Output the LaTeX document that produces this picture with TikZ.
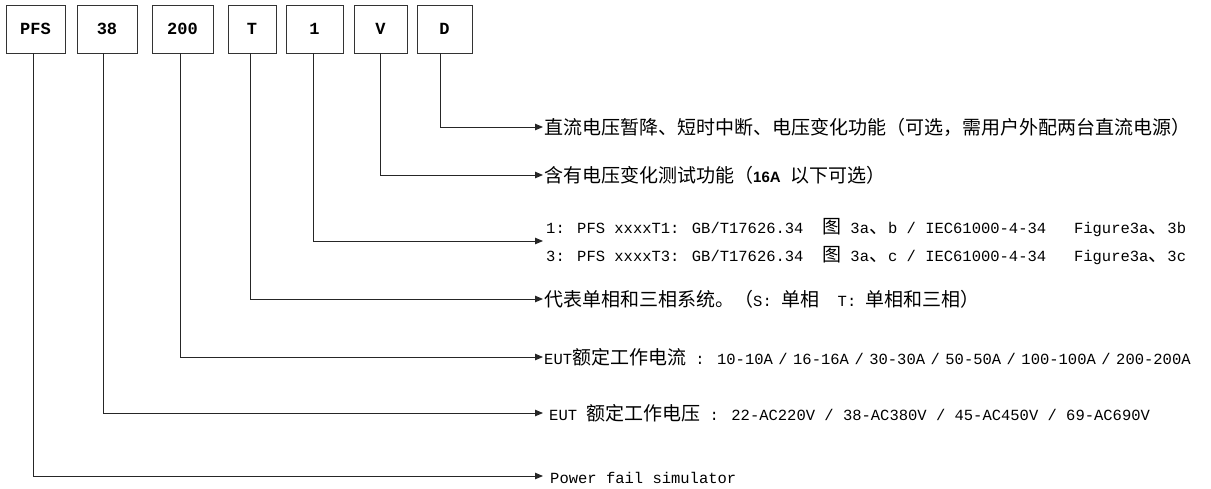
\documentclass[tikz,border=0pt]{standalone}
\usepackage{fontspec}
\setmainfont{Liberation Mono}
\newfontfamily\cjk{Noto Sans CJK SC}
\newfontfamily\lsans{Liberation Sans}
\usetikzlibrary{arrows.meta,calc}
\newcommand\zh[1]{{\cjk\fontsize{19}{22}\selectfont #1}}
\newcommand\myslash{\hspace{5.5pt}/\hspace{5.5pt}}
\begin{document}
\begin{tikzpicture}[x=1pt,y=-1pt,
  codebox/.style={draw=black!80, line width=0.9pt, minimum height=48pt, inner sep=0pt,
    font=\fontsize{17}{18}\selectfont\bfseries},
  lead/.style={draw=black!85, line width=0.9pt, -{Triangle[length=8pt,width=6.5pt]}, shorten >=1pt},
  desc/.style={anchor=west, inner sep=0pt, text height=14pt, text depth=0pt,
    font=\fontsize{15.5}{18}\selectfont}]
\useasboundingbox (0,0) rectangle (1211,488);
% code boxes
\node[codebox, minimum width=59pt] (pfs) at (35.5,29) {PFS};
\node[codebox, minimum width=60pt] (b38) at (107,29) {38};
\node[codebox, minimum width=61pt] (b200) at (182.5,29) {200};
\node[codebox, minimum width=48pt] (bT) at (252,29) {T};
\node[codebox, minimum width=57pt] (b1) at (314.5,29) {1};
\node[codebox, minimum width=53pt] (bV) at (380.5,29) {V};
\node[codebox, minimum width=55pt] (bD) at (444.5,29) {D};
% descriptions
\node[desc] (tD) at (544,127) {\zh{直流电压暂降、短时中断、电压变化功能（可选，需用户外配两台直流电源）}};
\node[desc] (tV) at (544,175) {\zh{含有电压变化测试功能（}{\lsans\bfseries\fontsize{15}{16}\selectfont 16A} \zh{以下可选）}};
\node[desc] (t1a) at (546,226) {1: PFS xxxxT1: GB/T17626.34\ \ \zh{图} 3a\zh{、}b / IEC61000-4-34\ \ \ Figure3a\zh{、}3b};
\node[desc] (t1b) at (546,254) {3: PFS xxxxT3: GB/T17626.34\ \ \zh{图} 3a\zh{、}c / IEC61000-4-34\ \ \ Figure3a\zh{、}3c};
\coordinate (c1) at ($(t1a.west)!0.5!(t1b.west)+(-2,1)$);
\node[desc] (tT) at (544,299) {\zh{代表单相和三相系统。（}S: \zh{单相}\ \ T: \zh{单相和三相）}};
\node[desc] (t200) at (544,357) {EUT\zh{额定工作电流} : 10-10A\myslash 16-16A\myslash 30-30A\myslash 50-50A\myslash 100-100A\myslash 200-200A};
\node[desc] (t38) at (544,413) {\hspace{5pt}EUT \zh{额定工作电压} : 22-AC220V / 38-AC380V / 45-AC450V / 69-AC690V};
\node[desc] (tP) at (544,476) {\hspace{6pt}Power fail simulator};
% leaders
\draw[lead] ([xshift=-4.5pt]bD.south) |- (tD.west);
\draw[lead] (bV.south) |- (tV.west);
\draw[lead] ([xshift=-1.5pt]b1.south) |- (c1);
\draw[lead] ([xshift=-2pt]bT.south) |- (tT.west);
\draw[lead] ([xshift=-2.5pt]b200.south) |- (t200.west);
\draw[lead] ([xshift=-4pt]b38.south) |- (t38.west);
\draw[lead] ([xshift=-2.5pt]pfs.south) |- (tP.west);
\end{tikzpicture}
\end{document}
